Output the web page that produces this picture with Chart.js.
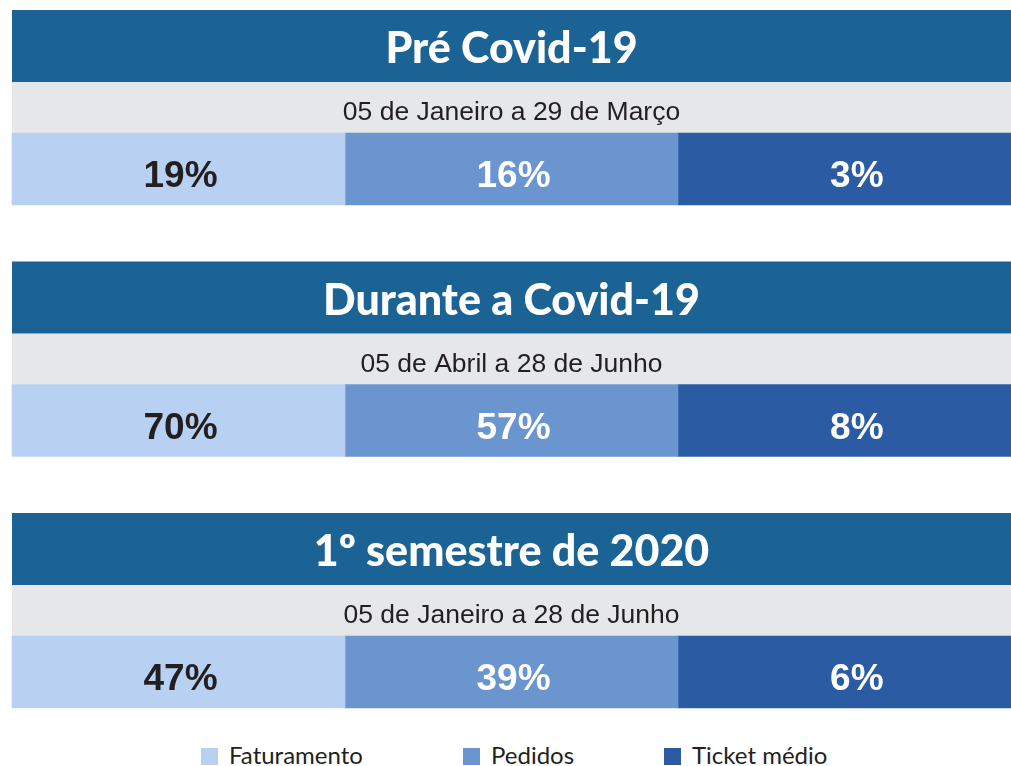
<!DOCTYPE html>
<html lang="pt-BR">
<head>
<meta charset="utf-8">
<title>Faturamento, pedidos e ticket médio</title>
<script src="https://cdn.jsdelivr.net/npm/chart.js@4/dist/chart.umd.min.js"></script>
<style>
  html, body { margin:0; padding:0; background:#fff; width:1011px; height:766px; overflow:hidden; }
  #wrap { position:absolute; left:0; top:0; width:1011px; height:720px; }
  #legend { position:absolute; left:0; top:740px; width:1011px; height:26px;
            font-family:Lato, sans-serif; font-size:24px; color:#231f20; }
  #legend .item { position:absolute; top:0; display:flex; align-items:center; white-space:nowrap; }
  #legend .box { width:17px; height:17px; margin-right:11px; margin-top:3px; }
</style>
</head>
<body>
<div id="wrap"><canvas id="chart" width="1011" height="720"></canvas></div>
<div id="legend"></div>
<script>
const periodos = ['Pré Covid-19', 'Durante a Covid-19', '1º semestre de 2020'];
const intervalos = ['05 de Janeiro a 29 de Março', '05 de Abril a 28 de Junho', '05 de Janeiro a 28 de Junho'];
const series = ['Faturamento', 'Pedidos', 'Ticket médio'];
const faturamento = [19, 70, 47];
const pedidos = [16, 57, 39];
const ticketMedio = [3, 8, 6];
const valores = [faturamento, pedidos, ticketMedio];
const cores = ['#b8d1f3', '#6a95cf', '#2b5ca3'];
const corTexto = ['#231f20', '#ffffff', '#ffffff'];
const legendaX = [201, 463, 664];

const HEADER_H = 72, SUB_H = 51, BAR_H = 72;

// header + date band above each row, and the % labels inside the cells
const painelPlugin = {
  id: 'painel',
  beforeDatasetsDraw(chart) {
    const { ctx, chartArea } = chart;
    const meta = chart.getDatasetMeta(0);
    ctx.save();
    meta.data.forEach((el, i) => {
      const top = el.y - BAR_H / 2;
      ctx.fillStyle = '#e6e7e8';
      ctx.fillRect(chartArea.left, top - SUB_H, chartArea.width, SUB_H);
      ctx.fillStyle = '#1b6394';
      ctx.fillRect(chartArea.left, top - SUB_H - HEADER_H, chartArea.width, HEADER_H);

      const cx = (chartArea.left + chartArea.right) / 2;
      ctx.textAlign = 'center';
      ctx.textBaseline = 'alphabetic';
      ctx.fillStyle = '#ffffff';
      ctx.font = '900 43px Lato, sans-serif';
      ctx.fillText(periodos[i], cx, top - 70);
      ctx.fillStyle = '#231f20';
      ctx.font = '26.5px "Liberation Sans", Arial, sans-serif';
      ctx.fillText(intervalos[i], cx, top - 13);
    });
    ctx.restore();
  },
  afterDatasetsDraw(chart) {
    const { ctx } = chart;
    ctx.save();
    ctx.font = 'bold 37px "Liberation Sans", Arial, sans-serif';
    ctx.textAlign = 'right';
    ctx.textBaseline = 'alphabetic';
    const half = ctx.measureText('00%').width / 2;
    chart.data.datasets.forEach((ds, d) => {
      chart.getDatasetMeta(d).data.forEach((el, i) => {
        const cx = (el.x + el.base) / 2;
        ctx.fillStyle = corTexto[d];
        ctx.fillText(valores[d][i] + '%', cx + half + 2, el.y - BAR_H / 2 + 54);
      });
    });
    ctx.restore();
  }
};

new Chart(document.getElementById('chart'), {
  type: 'bar',
  data: {
    labels: periodos,
    datasets: series.map((s, j) => ({
      label: s,
      data: periodos.map(() => [j, j + 1]),
      backgroundColor: cores[j],
      borderWidth: 0,
      barThickness: BAR_H,
      grouped: false,
      clip: false
    }))
  },
  options: {
    indexAxis: 'y',
    responsive: false,
    animation: false,
    layout: { padding: { top: 169, bottom: 48, left: 12, right: 0 } },
    scales: {
      x: { type: 'linear', min: 0, max: 3, display: false },
      y: { type: 'category', offset: false, display: false }
    },
    plugins: { legend: { display: false }, tooltip: { enabled: false } }
  },
  plugins: [painelPlugin]
});

const legend = document.getElementById('legend');
series.forEach((s, j) => {
  const item = document.createElement('div');
  item.className = 'item';
  item.style.left = legendaX[j] + 'px';
  item.innerHTML = '<span class="box" style="background:' + cores[j] + '"></span><span>' + s + '</span>';
  legend.appendChild(item);
});
</script>
</body>
</html>
